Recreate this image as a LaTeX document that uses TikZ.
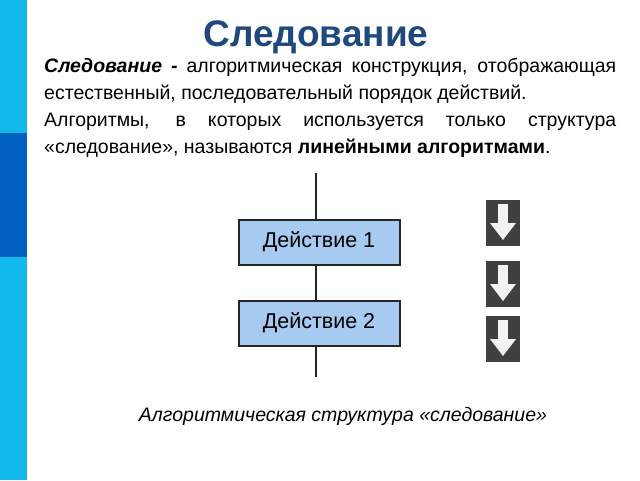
\documentclass[tikz,border=0pt]{standalone}
\usepackage{fontspec}
\setmainfont{Liberation Sans}
\definecolor{lb}{HTML}{12B9EB}
\definecolor{db}{HTML}{0060C0}
\definecolor{tb}{HTML}{1F497D}
\definecolor{bx}{HTML}{A6CAF0}
\begin{document}
\begin{tikzpicture}[x=1pt,y=-1pt,
  act/.style={draw=black!85,line width=2pt,fill=bx,minimum width=161pt,minimum height=45pt,font=\fontsize{21.5}{24}\selectfont},
  icon/.style={fill=black!75,minimum width=34pt,minimum height=46pt,inner sep=0pt}]
\useasboundingbox (0,0) rectangle (640,480);
\fill[lb] (0,0) rectangle (27,480);
\fill[db] (0,133) rectangle (27,257);
\node (title) at (316,37) {\fontsize{37}{42}\selectfont\bfseries\color{tb}Следование};
\node[anchor=north west,inner sep=0pt,text width=572pt,align=justify,font=\fontsize{19.5}{27}\selectfont] (para) at (44,58)
 {\textbf{\textit{Следование -}} алгоритмическая конструкция, отображающая естественный, последовательный порядок действий.\\
 Алгоритмы, в которых используется только структура «следование», называются \textbf{линейными алгоритмами}.};
\coordinate (top) at (316,173);
\coordinate (bot) at (316,377);
\node[act] (a1) at (319,242) {Действие 1};
\node[act] (a2) at (319,323) {Действие 2};
\draw[line width=2pt,black!85] (top) -- (a1.north -| top);
\draw[line width=2pt,black!85] (a1.south -| top) -- (a2.north -| top);
\draw[line width=2pt,black!85] (a2.south -| top) -- (bot);
\foreach \n/\y in {i1/223,i2/284,i3/339}{
 \node[icon] (\n) at (503,\y) {};
 \fill[white!90!gray] ([xshift=-5pt,yshift=19pt]\n.center) rectangle ([xshift=5pt,yshift=-2pt]\n.center);
 \fill[white!90!gray] ([xshift=-13pt,yshift=0pt]\n.center) -- ([xshift=13pt,yshift=0pt]\n.center) -- ([yshift=-17pt]\n.center) -- cycle;
}
\node (cap) at (343,416) {\fontsize{19.5}{22}\selectfont\itshape Алгоритмическая структура «следование»};
\end{tikzpicture}
\end{document}
